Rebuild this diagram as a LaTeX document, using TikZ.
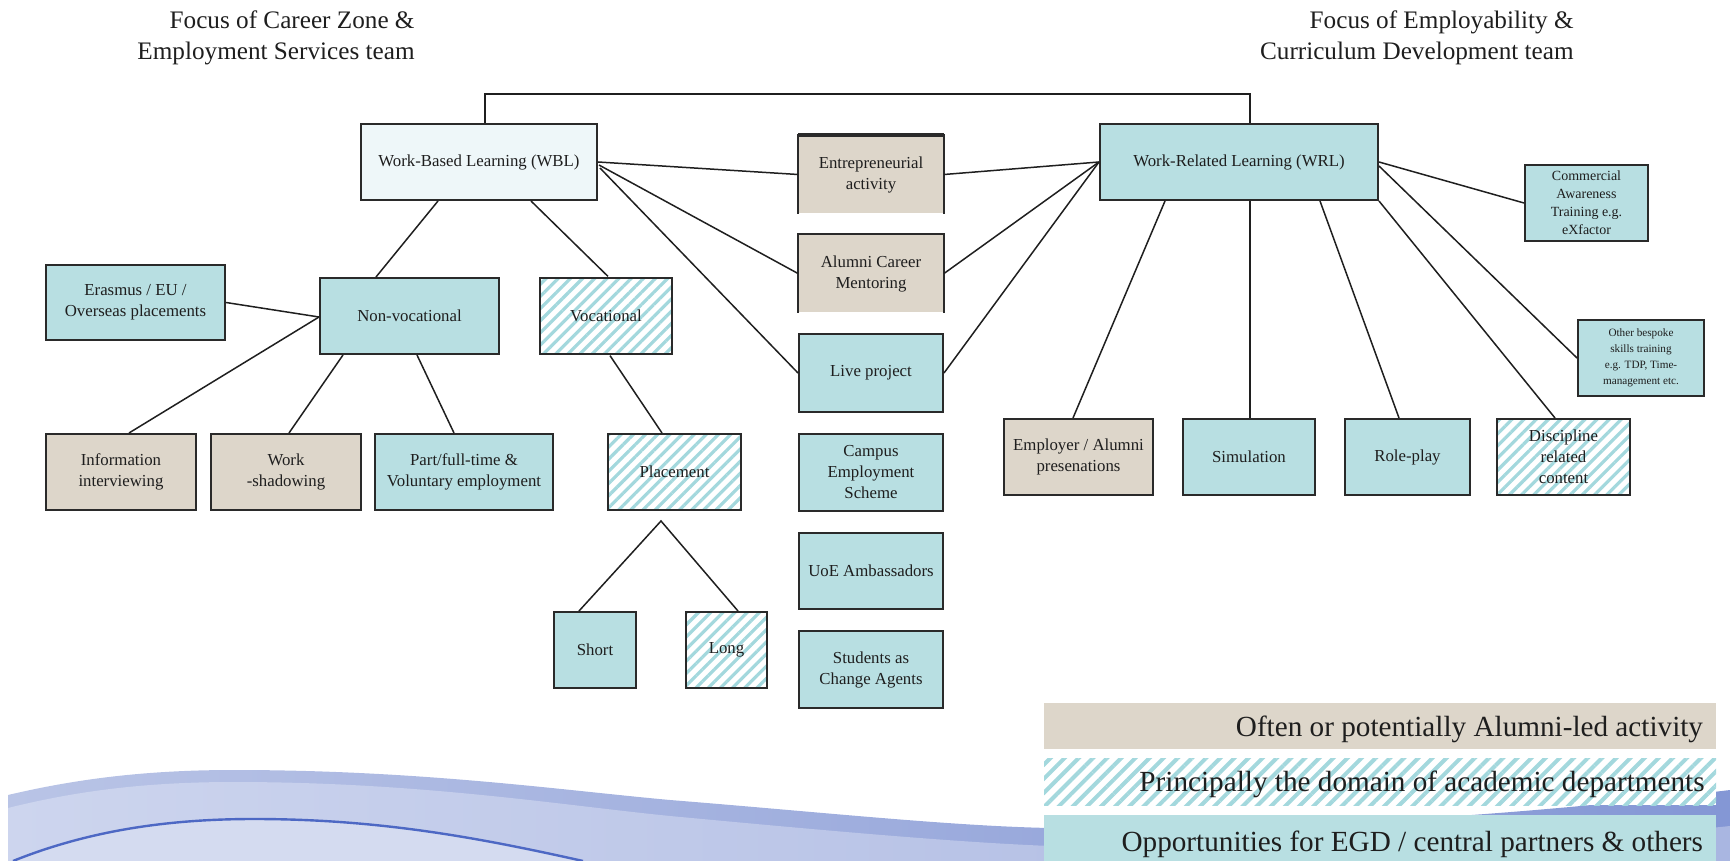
\documentclass[tikz,border=0pt]{standalone}
\usepackage{fontspec}
\setmainfont{Liberation Serif}
\usetikzlibrary{calc,patterns.meta}
\definecolor{tealf}{HTML}{B8DFE2}
\definecolor{wblf}{HTML}{EEF7F9}
\definecolor{beige}{HTML}{DDD6CA}
\definecolor{hatchc}{HTML}{A3D8DD}
\definecolor{bord}{HTML}{2A2A2A}
\definecolor{txt}{HTML}{1E1E1E}
\definecolor{waveL}{HTML}{B9C4E6}
\definecolor{waveR}{HTML}{8497D5}
\definecolor{waveLL}{HTML}{CDD5EE}
\definecolor{waveRL}{HTML}{A9B6E1}
\definecolor{waveline}{HTML}{4D68C4}
\definecolor{wavepale}{HTML}{D4DBF0}
\begin{document}
\begin{tikzpicture}[x=0.5pt,y=-0.5pt,
  box/.style={draw=bord, line width=1pt, align=center, text=txt, inner sep=1pt,
    font=\fontsize{8.4}{10.5}\selectfont},
  tealbox/.style={box, fill=tealf},
  wblbox/.style={box, fill=wblf},
  beigebox/.style={box, fill=beige},
  hatchbox/.style={box, preaction={fill=white},
    pattern={Lines[angle=45,distance=4.3pt,line width=1.6pt]}, pattern color=hatchc},
  sz/.style 2 args={minimum width=#1, minimum height=#2},
  conn/.style={draw=black!88, line width=0.75pt},
  titletext/.style={align=right, text=txt, font=\fontsize{12.6}{15.5}\selectfont, inner sep=0pt},
  legbar/.style={draw=none, minimum width=336pt, inner sep=0pt},
  legtext/.style={text=txt, font=\fontsize{14.6}{17}\selectfont, inner sep=0pt, anchor=east},
]
\path[use as bounding box] (0,0) rectangle (1730,861);

% background wave
\shade[left color=waveL, right color=waveR] (8,861) -- (8,795)
  .. controls (80,778) and (150,770) .. (234,770)
  .. controls (420,770) and (560,790) .. (670,800)
  .. controls (820,812) and (950,826) .. (1050,828)
  .. controls (1300,832) and (1550,812) .. (1730,790) -- (1730,861) -- cycle;
\shade[left color=waveLL, right color=waveRL] (8,861) -- (8,808)
  .. controls (80,790) and (150,782) .. (234,782)
  .. controls (420,782) and (560,805) .. (670,816)
  .. controls (820,830) and (950,842) .. (1050,846)
  .. controls (1300,852) and (1550,845) .. (1730,826) -- (1730,861) -- cycle;
\fill[wavepale] (13,861) .. controls (90,830) and (170,819) .. (254,819)
  .. controls (380,819) and (480,838) .. (583,861) -- cycle;
\draw[waveline, line width=1.2pt] (13,861) .. controls (90,830) and (170,819) .. (254,819)
  .. controls (380,819) and (480,838) .. (583,861);

% titles
\node[titletext, anchor=east] (t1) at (415,38) {Focus of Career Zone \&\\Employment Services team};
\node[titletext, anchor=east] (t2) at (1574,38) {Focus of Employability \&\\Curriculum Development team};

% main nodes
\node[wblbox, sz={118pt}{38pt}] (wbl) at (479,162) {Work-Based Learning (WBL)};
\node[tealbox, sz={139pt}{38pt}] (wrl) at (1239,162) {Work-Related Learning (WRL)};

% centre column
\node[beigebox, draw=none, sz={72pt}{38.5pt}] (ent) at (871,174.5) {Entrepreneurial\\activity};
\draw[bord, line width=1pt] (ent.south west) -- (ent.north west) -- (ent.north east) -- (ent.south east);
\draw[bord, line width=2pt] (ent.north west) -- (ent.north east);
\node[beigebox, draw=none, sz={72pt}{38.5pt}] (acm) at (871,273.5) {Alumni Career\\Mentoring};
\draw[bord, line width=1pt] (acm.south west) -- (acm.north west) -- (acm.north east) -- (acm.south east);
\node[tealbox, sz={72pt}{39pt}] (live) at (871,373) {Live project};
\node[tealbox, sz={72pt}{38.5pt}] (campus) at (871,472.5) {Campus\\Employment\\Scheme};
\node[tealbox, sz={72pt}{38pt}] (uoe) at (871,571) {UoE Ambassadors};
\node[tealbox, sz={72pt}{38.5pt}] (sca) at (871,669.5) {Students as\\Change Agents};

% WBL side
\node[tealbox, sz={89.5pt}{37.5pt}] (erasmus) at (135.5,302.5) {Erasmus / EU /\\Overseas placements};
\node[tealbox, sz={89.5pt}{38pt}] (nonvoc) at (409.5,316) {Non-vocational};
\node[hatchbox, sz={66pt}{38pt}] (voc) at (606,316) {Vocational};
\node[beigebox, sz={75pt}{38pt}] (info) at (121,472) {Information\\interviewing};
\node[beigebox, sz={75pt}{38pt}] (shadow) at (286,472) {Work\\-shadowing};
\node[tealbox, sz={89pt}{38pt}] (part) at (464,472) {Part/full-time \&\\Voluntary employment};
\node[hatchbox, sz={66.5pt}{38pt}] (placement) at (674.5,472) {Placement};
\node[tealbox, sz={41pt}{38pt}] (short) at (595,650) {Short};
\node[hatchbox, sz={40.5pt}{38pt}] (long) at (726.5,650) {Long};

% WRL side
\node[tealbox, sz={61.5pt}{38pt}, font=\fontsize{7}{9}\selectfont] (commercial) at (1586.5,203) {Commercial\\Awareness\\Training e.g.\\eXfactor};
\node[tealbox, sz={63pt}{37.5pt}, font=\fontsize{5.6}{8}\selectfont] (other) at (1641,358) {Other bespoke\\skills training\\e.g. TDP, Time-\\management etc.};
\node[beigebox, sz={74.5pt}{38pt}] (employer) at (1078.5,457) {Employer / Alumni\\presenations};
\node[tealbox, sz={66pt}{38pt}] (simulation) at (1249,457) {Simulation};
\node[tealbox, sz={62.5pt}{38pt}] (roleplay) at (1407.5,457) {Role-play};
\node[hatchbox, sz={66.5pt}{38pt}] (discipline) at (1563.5,457) {Discipline\\related\\content};

% connectors
\draw[conn] ($(wbl.north)+(6,0)$) -- ++(0,-29) -| ($(wrl.north)+(11,0)$);
\draw[conn] ($(wbl.south west)+(78,0)$) -- ($(nonvoc.north west)+(57,0)$);
\draw[conn] ($(wbl.south west)+(171,0)$) -- ($(voc.north)+(2,0)$);
\draw[conn] ($(nonvoc.west)+(0,1)$) -- (erasmus.east);
\draw[conn] ($(nonvoc.west)+(0,1)$) -- ($(info.north west)+(84,0)$);
\draw[conn] ($(nonvoc.south west)+(24,0)$) -- ($(shadow.north)+(3,0)$);
\draw[conn] ($(nonvoc.south west)+(98,0)$) -- ($(part.north west)+(80,0)$);
\draw[conn] ($(voc.south)+(4,0)$) -- ($(placement.north west)+(55,0)$);
\coordinate (apex) at ($(placement.south)+(-13.5,10)$);
\draw[conn] ($(short.north west)+(26,0)$) -- (apex) -- ($(long.north west)+(53,0)$);

\draw[conn] (wbl.east) -- (ent.west);
\draw[conn] ($(wbl.east)+(1,3)$) -- (acm.west);
\draw[conn] ($(wbl.east)+(2,6)$) -- (live.west);
\draw[conn] (wrl.west) -- (ent.east);
\draw[conn] (wrl.west) -- (acm.east);
\draw[conn] (wrl.west) -- (live.east);

\draw[conn] ($(wrl.south west)+(66,0)$) -- ($(employer.north west)+(70,0)$);
\draw[conn] ($(wrl.south)+(11,0)$) -- ($(simulation.north)+(1,0)$);
\draw[conn] ($(wrl.south west)+(221,0)$) -- ($(roleplay.north west)+(55,0)$);
\draw[conn] (wrl.south east) -- ($(discipline.north west)+(59,0)$);
\draw[conn] (wrl.east) -- (commercial.west);
\draw[conn] ($(wrl.east)+(0,4)$) -- (other.west);

% legend
\node[legbar, fill=beige, minimum height=23pt] (lg1) at (1380,726) {};
\node[legbar, preaction={fill=white}, pattern={Lines[angle=45,distance=5pt,line width=2pt]}, pattern color=hatchc, minimum height=23.5pt] (lg2) at (1380,781.5) {};
\node[legbar, fill=tealf, minimum height=23pt] (lg3) at (1380,838) {};
\node[legtext] (lt1) at ($(lg1.east)+(-13,3)$) {Often or potentially Alumni-led activity};
\node[legtext] (lt2) at ($(lg2.east)+(-13,3)$) {Principally the domain of academic departments};
\node[legtext] (lt3) at ($(lg3.east)+(-13,6)$) {Opportunities for EGD / central partners \& others};
\end{tikzpicture}
\end{document}
